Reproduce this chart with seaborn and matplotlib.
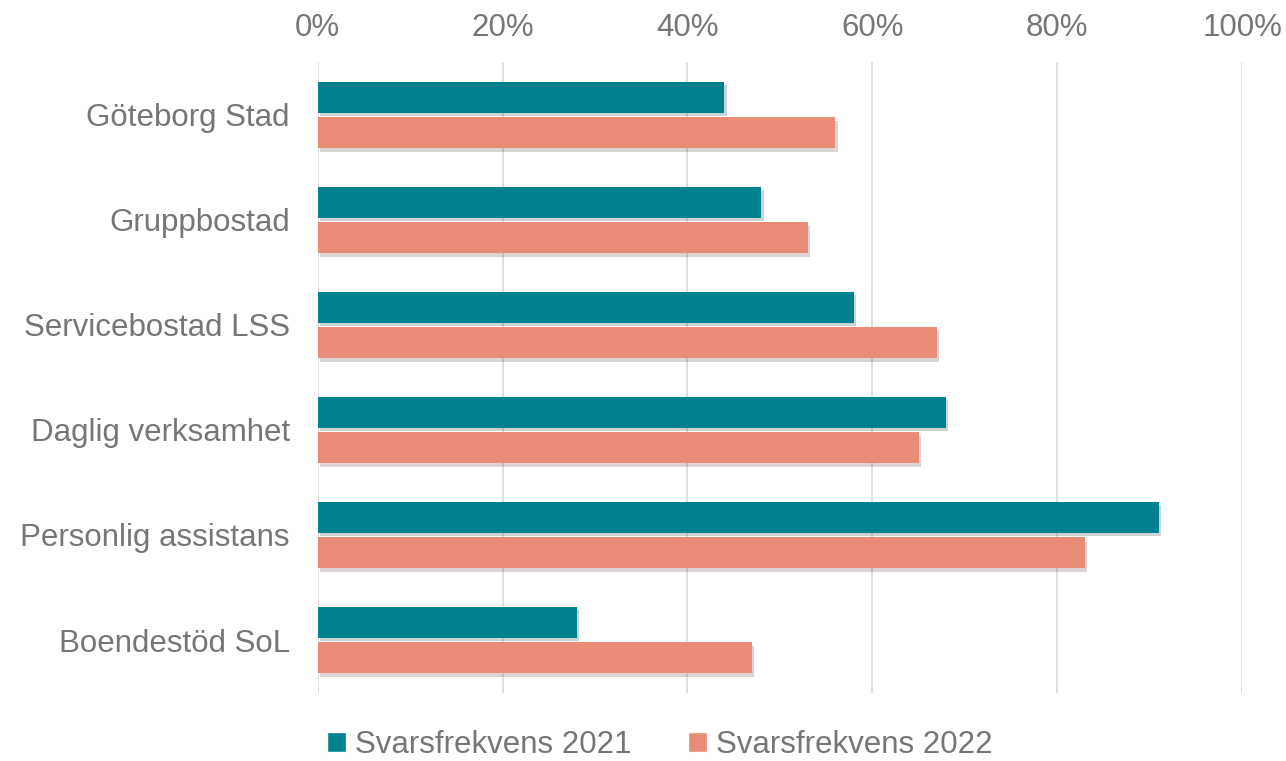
import pandas as pd
import seaborn as sns
import matplotlib
matplotlib.use('Agg')
import matplotlib.pyplot as plt
import matplotlib.patheffects as pe
from matplotlib.ticker import PercentFormatter

categories = ["Göteborg Stad", "Gruppbostad", "Servicebostad LSS",
              "Daglig verksamhet", "Personlig assistans", "Boendestöd SoL"]
svar_2021 = [44, 48, 58, 68, 91, 28]
svar_2022 = [56, 53, 67, 65, 83, 47]
series = ["Svarsfrekvens 2021", "Svarsfrekvens 2022"]
colors = ["#00818F", "#E88C77"]

df = pd.DataFrame({
    "kategori": categories * 2,
    "serie": [series[0]] * len(categories) + [series[1]] * len(categories),
    "varde": svar_2021 + svar_2022,
})

sns.set_theme(style="white")
plt.rcParams['font.family'] = ['Liberation Sans', 'DejaVu Sans']
txt = "#767676"
fs = 22.5

fig = plt.figure(figsize=(12.86, 7.61), dpi=100)
ax = fig.add_axes([0.247, 0.09, 0.719, 0.828])

sns.barplot(data=df, y="kategori", x="varde", hue="serie", order=categories,
            hue_order=series, palette=colors, width=0.68, gap=0.13,
            orient="h", ax=ax, saturation=1, legend=True)

ax.set_xlim(0, 100)
ax.set_ylim(5.5, -0.5)
ax.xaxis.set_major_formatter(PercentFormatter(decimals=0))
ax.set_xticks(range(0, 101, 20))
ax.xaxis.tick_top()
ax.tick_params(axis="x", length=0, pad=14, labelsize=fs, labelcolor=txt)
ax.tick_params(axis="y", length=0, pad=20, labelsize=fs, labelcolor=txt)
ax.grid(axis="x", color="#D9D9D9", linewidth=1.2)
ax.set_axisbelow(True)
for s in ax.spines.values():
    s.set_visible(False)
ax.set_xlabel("")
ax.set_ylabel("")

# legend first, so the handles don't pick up the shadow
h, l = ax.get_legend_handles_labels()
ax.legend_.remove()
fig.legend(h, l, loc="lower center", bbox_to_anchor=(0.513, -0.036), ncol=2,
           frameon=False, fontsize=fs, labelcolor=txt, handlelength=0.6,
           handleheight=0.6, handletextpad=0.3, columnspacing=1.8)

# soft shadow like the original
for p in ax.patches:
    p.set_path_effects([pe.SimplePatchShadow(offset=(1.5, -2.5), alpha=0.2), pe.Normal()])
    p.set_linewidth(0)

fig.savefig("out.png", dpi=100)
plt.close()
